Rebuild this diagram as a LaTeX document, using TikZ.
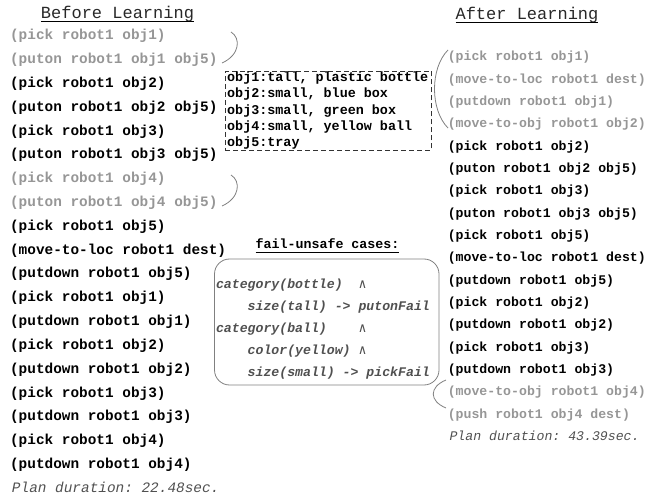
\documentclass[tikz,border=0pt]{standalone}
\usepackage{fontspec}
\setmonofont{Liberation Mono}
\newfontfamily\symmono{DejaVu Sans Mono}

\definecolor{fadedtext}{RGB}{150,150,150}
\definecolor{ruletext}{RGB}{80,80,80}
\definecolor{framegray}{RGB}{128,128,128}
\definecolor{titletext}{RGB}{40,40,40}

\tikzset{
  every node/.style={inner sep=0pt, outer sep=0pt},
  heading/.style={anchor=base, text=titletext, font=\ttfamily\fontsize{17}{20}\selectfont},
  leftstep/.style={anchor=base west, font=\ttfamily\bfseries\fontsize{14.4}{17}\selectfont},
  rightstep/.style={anchor=base west, font=\ttfamily\bfseries\fontsize{13.2}{16}\selectfont},
  faded/.style={text=fadedtext},
  active/.style={text=black},
  duration/.style={anchor=base west, text=ruletext},
  objline/.style={anchor=base west, font=\ttfamily\bfseries\fontsize{13.4}{16}\selectfont},
  ruleline/.style={anchor=base west, text=ruletext, font=\ttfamily\bfseries\itshape\fontsize{13.2}{16}\selectfont},
  brace/.style={draw=framegray, line width=0.8pt},
}

\begin{document}
\begin{tikzpicture}[x=1pt, y=-1pt]
\useasboundingbox (0,0) rectangle (659,497);

% column headings
\node[heading] (before) at (117.5,18.5) {Before Learning};
\draw[line width=0.7pt] ([yshift=-2.5pt]before.base west) -- ([yshift=-2.5pt]before.base east);
\node[heading] (after) at (527,20) {After Learning};
\draw[line width=0.7pt] ([yshift=-2.5pt]after.base west) -- ([yshift=-2.5pt]after.base east);

% plan before learning
\foreach \i/\t/\s in {
  0/{(pick robot1 obj1)}/faded,
  1/{(puton robot1 obj1 obj5)}/faded,
  2/{(pick robot1 obj2)}/active,
  3/{(puton robot1 obj2 obj5)}/active,
  4/{(pick robot1 obj3)}/active,
  5/{(puton robot1 obj3 obj5)}/active,
  6/{(pick robot1 obj4)}/faded,
  7/{(puton robot1 obj4 obj5)}/faded,
  8/{(pick robot1 obj5)}/active,
  9/{(move-to-loc robot1 dest)}/active,
  10/{(putdown robot1 obj5)}/active,
  11/{(pick robot1 obj1)}/active,
  12/{(putdown robot1 obj1)}/active,
  13/{(pick robot1 obj2)}/active,
  14/{(putdown robot1 obj2)}/active,
  15/{(pick robot1 obj3)}/active,
  16/{(putdown robot1 obj3)}/active,
  17/{(pick robot1 obj4)}/active,
  18/{(putdown robot1 obj4)}/active}
  \node[leftstep, \s] (l\i) at (10.1,{40+23.8*\i}) {\t};
\node[duration, font=\ttfamily\itshape\fontsize{14.4}{17}\selectfont] (ldur) at (12,{40+23.8*19}) {Plan duration: 22.48sec.};

% plan after learning
\foreach \i/\t/\s in {
  0/{(pick robot1 obj1)}/faded,
  1/{(move-to-loc robot1 dest)}/faded,
  2/{(putdown robot1 obj1)}/faded,
  3/{(move-to-obj robot1 obj2)}/faded,
  4/{(pick robot1 obj2)}/active,
  5/{(puton robot1 obj2 obj5)}/active,
  6/{(pick robot1 obj3)}/active,
  7/{(puton robot1 obj3 obj5)}/active,
  8/{(pick robot1 obj5)}/active,
  9/{(move-to-loc robot1 dest)}/active,
  10/{(putdown robot1 obj5)}/active,
  11/{(pick robot1 obj2)}/active,
  12/{(putdown robot1 obj2)}/active,
  13/{(pick robot1 obj3)}/active,
  14/{(putdown robot1 obj3)}/active,
  15/{(move-to-obj robot1 obj4)}/faded,
  16/{(push robot1 obj4 dest)}/faded}
  \node[rightstep, \s] (r\i) at (447.8,{60.7+22.35*\i}) {\t};
\node[duration, font=\ttfamily\itshape\fontsize{13.2}{16}\selectfont] (rdur) at (449.5,{60.7+22.35*17}) {Plan duration: 43.39sec.};

% object descriptions
\node[draw=black!80, line width=0.8pt, dash pattern=on 5pt off 3pt,
      minimum width=206.5pt, minimum height=78.5pt] (objbox) at (328.25,110.75) {};
\foreach \i/\t in {
  0/{obj1:tall, plastic bottle},
  1/{obj2:small, blue box},
  2/{obj3:small, green box},
  3/{obj4:small, yellow ball},
  4/{obj5:tray}}
  \node[objline] (o\i) at (227.2,{81.7+16.3*\i}) {\t};

% learned fail-unsafe cases
\node[anchor=base west, font=\ttfamily\bfseries\fontsize{13.3}{16}\selectfont] (failhead) at (255.7,248.8) {fail-unsafe cases:};
\draw[line width=0.7pt] ([yshift=-3.5pt]failhead.base west) -- ([yshift=-3.5pt]failhead.base east);
\node[draw=framegray, line width=0.8pt, rounded corners=15pt,
      minimum width=224.5pt, minimum height=126pt] (rulebox) at (326.75,322) {};
\node[ruleline] (c0) at (216,{288.6+21.9*0}) {category(bottle)\phantom{xx}{\symmono\mdseries\upshape ∧}};
\node[ruleline] (c1) at (216,{288.6+21.9*1}) {\phantom{xxxx}size(tall) -> putonFail};
\node[ruleline] (c2) at (216,{288.6+21.9*2}) {category(ball)\phantom{xxxx}{\symmono\mdseries\upshape ∧}};
\node[ruleline] (c3) at (216,{288.6+21.9*3}) {\phantom{xxxx}color(yellow)\phantom{x}{\symmono\mdseries\upshape ∧}};
\node[ruleline] (c4) at (216,{288.6+21.9*4}) {\phantom{xxxx}size(small) -> pickFail};

% brackets grouping the affected steps
\draw[brace] (231,32) .. controls (241,38) and (240,55) .. (222,63);
\draw[brace] (231,175) .. controls (241,181) and (240,198) .. (222,206);
\draw[brace] (448,50) .. controls (430,68) and (430,110) .. (448,128);
\draw[brace] (446,380) .. controls (429,387) and (429,401) .. (446,408);
\end{tikzpicture}
\end{document}
